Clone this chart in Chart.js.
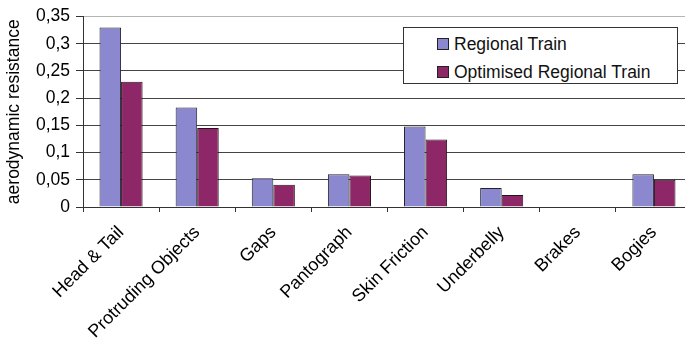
<!DOCTYPE html>
<html>
<head>
<meta charset="utf-8">
<script src="https://cdn.jsdelivr.net/npm/chart.js@4"></script>
<style>
  html, body { margin: 0; padding: 0; background: #fff; overflow: hidden; }
  #wrap { position: relative; width: 692px; height: 342px; }
  #legend {
    position: absolute; left: 403px; top: 27px; width: 275px; height: 57px;
    border: 1px solid #333; background: #fff; box-sizing: border-box;
    font-family: "Liberation Sans", Arial, sans-serif; font-size: 17.5px; color: #111;
    padding: 2px 0 0 33px;
  }
  #legend .item { height: 28px; line-height: 28px; white-space: nowrap; }
  #legend .sw {
    display: inline-block; width: 10px; height: 10px; border: 1px solid #222;
    margin-right: 5px; vertical-align: 0px;
  }
</style>
</head>
<body>
<div id="wrap">
  <canvas id="dragChart" width="692" height="342"></canvas>
  <div id="legend"></div>
</div>
<script>
/**************************************************
 * DATA
 **************************************************/
const categories = ["Head & Tail", "Protruding Objects", "Gaps", "Pantograph",
                    "Skin Friction", "Underbelly", "Brakes", "Bogies"];
const regionalTrain  = [0.330, 0.183, 0.053, 0.060, 0.148, 0.035, 0, 0.060];
const optimisedTrain = [0.230, 0.145, 0.041, 0.058, 0.124, 0.022, 0, 0.050];
const seriesNames = ["Regional Train", "Optimised Regional Train"];
const yTicks = [0, 0.05, 0.1, 0.15, 0.2, 0.25, 0.3, 0.35];

const FONT = "'Liberation Sans', Arial, sans-serif";

/**************************************************
 * CHART
 **************************************************/
let dragChart;

function drawDragChart() {
  const ctx = document.getElementById("dragChart").getContext("2d");

  dragChart = new Chart(ctx, {
    type: "bar",
    data: {
      labels: categories,
      datasets: [
        {
          label: seriesNames[0],
          data: regionalTrain,
          backgroundColor: "#8b88d0",
          borderColor: "#23232f",
          borderWidth: 1
        },
        {
          label: seriesNames[1],
          data: optimisedTrain,
          backgroundColor: "#8e2767",
          borderColor: "#24141c",
          borderWidth: 1
        }
      ]
    },
    options: {
      responsive: false,
      animation: false,
      layout: { padding: { top: 3, right: 0, left: 0, bottom: 0 } },
      datasets: {
        bar: { categoryPercentage: 0.566, barPercentage: 1 }
      },
      plugins: {
        legend: { display: false },
        tooltip: { enabled: false }
      },
      scales: {
        x: {
          grid: {
            offset: true,
            drawOnChartArea: false,
            drawTicks: true,
            tickLength: 5,
            color: "#333"
          },
          border: { color: "#333", width: 1 },
          ticks: {
            autoSkip: false,
            maxRotation: 45,
            minRotation: 45,
            padding: 10,
            color: "#000",
            font: { family: FONT, size: 18 }
          },
          afterFit: s => { s.height = 135; }
        },
        y: {
          min: 0,
          max: 0.35,
          afterBuildTicks: s => { s.ticks = yTicks.map(v => ({ value: v })); },
          grid: {
            color: c => (c.tick && c.tick.value === 0.35 ? "#b5b5b5" : "#444"),
            tickColor: "#333",
            tickLength: 7,
            lineWidth: 1
          },
          border: { color: "#333", width: 1 },
          ticks: {
            padding: 6,
            color: "#000",
            font: { family: FONT, size: 17.5 },
            callback: v => String(Math.round(v * 100) / 100).replace(".", ",")
          },
          title: {
            display: true,
            text: "aerodynamic resistance",
            color: "#000",
            font: { family: FONT, size: 17.5 },
            padding: { top: 4, bottom: 0 }
          },
          afterFit: s => { s.width = 83; }
        }
      }
    }
  });

  // legend box built from the datasets
  const legend = document.getElementById("legend");
  dragChart.data.datasets.forEach(ds => {
    const item = document.createElement("div");
    item.className = "item";
    const sw = document.createElement("span");
    sw.className = "sw";
    sw.style.background = ds.backgroundColor;
    item.appendChild(sw);
    item.appendChild(document.createTextNode(ds.label));
    legend.appendChild(item);
  });
}

drawDragChart();
</script>
</body>
</html>
